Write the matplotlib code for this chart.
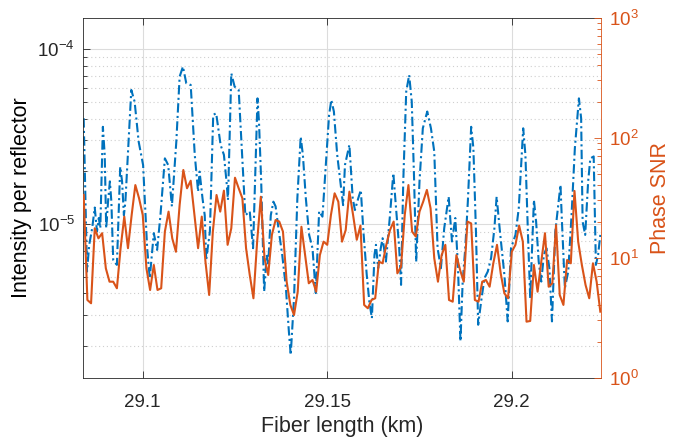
import numpy as np
import matplotlib
matplotlib.use("Agg")
import matplotlib.pyplot as plt
from matplotlib.ticker import LogLocator, NullFormatter, LogFormatterSciNotation

plt.rcParams['font.family'] = ['Liberation Sans', 'DejaVu Sans']
plt.rcParams['mathtext.fontset'] = 'custom'
plt.rcParams['mathtext.rm'] = 'Liberation Sans'
plt.rcParams['axes.unicode_minus'] = False

BLUE = '#0072BD'
ORANGE = '#D95319'
DARK = '#262626'

# intensity trace (km, x1e-6)
fiber_km = [
    29.0840, 29.0849, 29.0855, 29.0863, 29.0870, 29.0876, 29.0881, 29.0885, 29.0892, 29.0897,
    29.0901, 29.0906, 29.0911, 29.0915, 29.0920, 29.0930, 29.0939, 29.0944, 29.0949, 29.0953,
    29.0969, 29.0978, 29.0989, 29.1001, 29.1012, 29.1019, 29.1030, 29.1039, 29.1048, 29.1060,
    29.1069, 29.1079, 29.1091, 29.1100, 29.1109, 29.1118, 29.1130, 29.1141, 29.1150, 29.1154,
    29.1162, 29.1168, 29.1172, 29.1182, 29.1191, 29.1199, 29.1211, 29.1220, 29.1227, 29.1231,
    29.1240, 29.1249, 29.1260, 29.1272, 29.1278, 29.1290, 29.1299, 29.1311, 29.1315, 29.1321,
    29.1329, 29.1336, 29.1340, 29.1347, 29.1354, 29.1360, 29.1369, 29.1378, 29.1388, 29.1396,
    29.1401, 29.1410, 29.1419, 29.1428, 29.1434, 29.1442, 29.1451, 29.1460, 29.1469, 29.1478,
    29.1487, 29.1496, 29.1505, 29.1511, 29.1518, 29.1527, 29.1543, 29.1548, 29.1560, 29.1569,
    29.1575, 29.1584, 29.1591, 29.1598, 29.1607, 29.1614, 29.1621, 29.1628, 29.1632, 29.1638,
    29.1645, 29.1650, 29.1659, 29.1670, 29.1679, 29.1688, 29.1695, 29.1700, 29.1706, 29.1714,
    29.1722, 29.1729, 29.1735, 29.1741, 29.1750, 29.1759, 29.1771, 29.1781, 29.1790, 29.1799,
    29.1808, 29.1817, 29.1829, 29.1838, 29.1847, 29.1854, 29.1861, 29.1867, 29.1874, 29.1881,
    29.1890, 29.1896, 29.1903, 29.1909, 29.1917, 29.1926, 29.1935, 29.1944, 29.1953, 29.1959,
    29.1968, 29.1980, 29.1989, 29.1998, 29.2010, 29.2019, 29.2031, 29.2037, 29.2044, 29.2050,
    29.2060, 29.2066, 29.2073, 29.2080, 29.2087, 29.2094, 29.2102, 29.2109, 29.2118, 29.2132,
    29.2136, 29.2144, 29.2153, 29.2162, 29.2171, 29.2182, 29.2188, 29.2192, 29.2199, 29.2207,
    29.2213, 29.2222, 29.2228, 29.2234, 29.2240,
]
intensity_e6 = [
    40.2, 5.34, 7.59, 9.45, 12.4, 9.04, 10.8, 9.45, 35.9, 24.8,
    9.45, 13.4, 17.5, 13.4, 6.23, 5.83, 21.2, 17.5, 11.2, 13.4,
    58.3, 50.0, 29.5, 21.7, 7.26, 4.89, 8.85, 7.10, 11.2, 23.7,
    21.7, 12.6, 29.5, 69.5, 79.3, 63.7, 62.3, 24.8, 15.3, 19.9,
    14.0, 11.2, 6.23, 9.04, 42.0, 42.9, 28.3, 24.8, 17.5, 13.7,
    72.6, 60.9, 58.3, 19.1, 11.2, 11.8, 7.26, 52.2, 38.5, 17.5,
    4.10, 6.65, 5.83, 11.2, 13.4, 12.6, 9.04, 6.65, 4.29, 2.43,
    1.78, 3.76, 14.0, 31.5, 24.8, 14.0, 8.65, 7.26, 4.02, 11.8,
    11.0, 21.7, 42.0, 51.1, 43.9, 24.8, 12.8, 21.7, 28.3, 14.0,
    12.0, 14.0, 15.6, 9.04, 5.12, 3.60, 2.89, 6.65, 7.59, 5.58,
    7.26, 8.28, 6.09, 11.2, 19.5, 11.2, 7.26, 4.48, 17.5, 57.0,
    71.0, 50.0, 19.1, 6.09, 17.5, 35.2, 43.9, 35.2, 25.9, 7.26,
    5.58, 9.45, 14.3, 7.93, 10.8, 5.83, 2.13, 4.68, 7.26, 13.4,
    35.9, 27.1, 9.04, 2.65, 3.60, 4.89, 5.34, 6.37, 9.45, 14.3,
    9.04, 5.12, 2.77, 7.26, 8.65, 12.3, 35.2, 24.8, 8.65, 3.76,
    13.7, 10.3, 6.09, 4.68, 6.65, 7.26, 5.58, 2.77, 9.04, 16.7,
    10.3, 4.29, 5.34, 11.2, 27.1, 52.2, 40.2, 10.3, 8.65, 17.5,
    23.7, 24.3, 5.83, 6.65, 8.65,
]

# phase SNR, one value per metre from 29.084 km
snr_start_km = 29.084
snr_step_km = 0.001
phase_snr = [
    33.3, 4.44, 4.17, 17.6, 14.5, 16.0, 8.16, 6.31, 6.31, 5.56,
    12.0, 22.0, 12.0, 22.7, 40.3, 31.3, 22.7, 8.16, 5.38, 8.69,
    5.38, 5.56, 16.5, 24.2, 14.5, 11.2, 27.5, 53.8, 37.9, 43.8,
    22.7, 12.0, 22.0, 9.26, 4.89, 16.5, 33.3, 24.2, 36.2, 12.8,
    17.6, 46.4, 37.9, 31.3, 12.0, 7.18, 4.59, 13.6, 32.2, 9.89,
    7.18, 15.5, 20.6, 20.0, 16.5, 6.31, 4.04, 3.33, 5.21, 18.1,
    10.5, 6.12, 6.52, 5.21, 10.5, 13.6, 12.8, 22.7, 34.4, 29.3,
    13.6, 17.0, 35.5, 22.7, 14.1, 18.5, 4.04, 3.79, 4.44, 4.59,
    9.26, 8.98, 12.8, 17.0, 20.0, 7.41, 8.41, 22.7, 40.3, 16.5,
    15.0, 24.2, 29.3, 36.7, 25.8, 9.89, 6.31, 10.5, 12.8, 4.44,
    4.30, 10.5, 7.90, 6.31, 20.0, 19.3, 4.44, 4.30, 6.31, 6.52,
    5.73, 8.98, 12.8, 7.41, 5.05, 4.59, 11.2, 12.8, 18.5, 13.6,
    2.93, 2.97, 8.69, 5.21, 9.26, 16.0, 5.73, 6.12, 18.7, 4.89,
    4.04, 9.57, 8.98, 36.0, 13.6, 8.69, 5.92, 4.59, 8.98, 6.31,
    3.55,
]

x_ticks = [29.1, 29.15, 29.2]
x_tick_labels = ['29.1', '29.15', '29.2']

snr_km = snr_start_km + snr_step_km * np.arange(len(phase_snr))

fig = plt.figure(figsize=(6.88, 4.40), dpi=100)
ax = fig.add_axes([0.1211, 0.1416, 0.752, 0.8182])
ax2 = ax.twinx()

ax.plot(fiber_km, np.array(intensity_e6) * 1e-6, color=BLUE, lw=1.5,
        ls=(0, (4.5, 1.6, 1, 1.6)))
ax2.plot(snr_km, phase_snr, '-', color=ORANGE, lw=1.5)

ax.set_yscale('log')
ax2.set_yscale('log')
ax.set_xlim(29.0839, 29.2241)
ax.set_ylim(1.32e-6, 1.51e-4)
ax2.set_ylim(1, 1000)

ax.set_xticks(x_ticks)
ax.set_xticklabels(x_tick_labels)
ax.yaxis.set_major_locator(LogLocator(base=10))
ax.yaxis.set_minor_locator(LogLocator(base=10, subs=np.arange(2, 10)))
ax.yaxis.set_major_formatter(LogFormatterSciNotation())
ax.yaxis.set_minor_formatter(NullFormatter())
ax2.yaxis.set_major_locator(LogLocator(base=10))
ax2.yaxis.set_minor_locator(LogLocator(base=10, subs=np.arange(2, 10)))
ax2.yaxis.set_minor_formatter(NullFormatter())

# grid on the left axis only
ax.grid(True, which='major', color='#dcdcdc', lw=0.8, ls='-')
ax.grid(True, which='minor', axis='y', color='#cfcfcf', lw=0.8, ls=(0, (1, 2.5)))
ax.set_axisbelow(True)

ax.tick_params(which='both', direction='in', top=True, right=False,
               colors=DARK, labelsize=13.5, pad=6)
ax.tick_params(which='major', length=5, width=0.6)
ax.tick_params(which='minor', length=3, width=0.6)
ax.tick_params(axis='x', pad=12)
ax2.tick_params(which='both', direction='in', left=False, right=True,
                colors=ORANGE, labelsize=13.5, pad=6)
ax2.tick_params(which='major', length=5, width=0.6)
ax2.tick_params(which='minor', length=3, width=0.6)

for side in ['top', 'bottom', 'left']:
    ax.spines[side].set_color(DARK)
    ax.spines[side].set_linewidth(0.6)
ax.spines['right'].set_visible(False)
for side in ['top', 'bottom', 'left']:
    ax2.spines[side].set_visible(False)
ax2.spines['right'].set_color(ORANGE)
ax2.spines['right'].set_linewidth(0.6)

ax.set_xlabel('Fiber length (km)', fontsize=15.5, color=DARK, labelpad=3)
ax.set_ylabel('Intensity per reflector', fontsize=15.5, color='black', labelpad=4)
ax2.set_ylabel('Phase SNR', fontsize=15.5, color=ORANGE, labelpad=8)

fig.savefig('out.png', dpi=100)
